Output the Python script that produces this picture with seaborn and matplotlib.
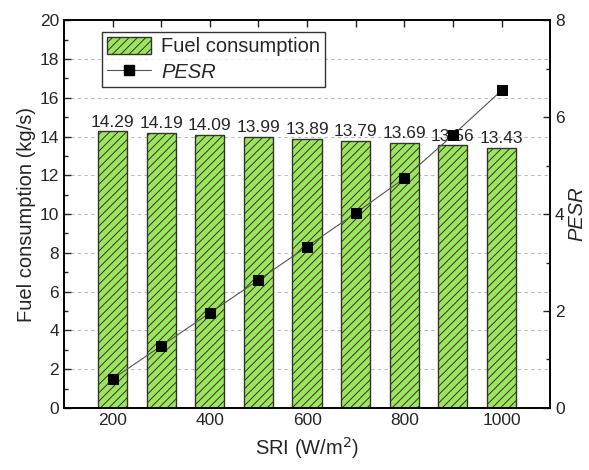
import numpy as np
import pandas as pd
import matplotlib
matplotlib.use("Agg")
import matplotlib.pyplot as plt
from matplotlib.patches import Patch
from matplotlib.lines import Line2D
import seaborn as sns

# data
sri = [200, 300, 400, 500, 600, 700, 800, 900, 1000]
fuel = [14.29, 14.19, 14.09, 13.99, 13.89, 13.79, 13.69, 13.56, 13.43]
pesr = [0.60, 1.28, 1.96, 2.64, 3.33, 4.02, 4.74, 5.63, 6.55]

sns.set_style("ticks")
plt.rcParams['font.family'] = ['Liberation Sans', 'DejaVu Sans']
plt.rcParams['hatch.linewidth'] = 0.7
plt.rcParams['hatch.color'] = '#222222'

df = pd.DataFrame({"SRI": [str(s) for s in sri], "Fuel": fuel, "PESR": pesr})

fig = plt.figure(figsize=(5.89, 4.7), dpi=100)
ax = fig.add_axes([0.1087, 0.132, 0.8253, 0.825])

green = "#9de65c"
sns.barplot(data=df, x="SRI", y="Fuel", color=green, width=0.6,
            edgecolor="#333333", linewidth=1.0, hatch="////", saturation=1,
            ax=ax, zorder=2)

# dashed grid at major left ticks
for yv in range(2, 20, 2):
    ax.axhline(yv, color="#bbbbbb", linestyle=(0, (3, 3)), linewidth=0.8, zorder=0)

ax.bar_label(ax.containers[0], fmt="%.2f", padding=1, fontsize=12.5, zorder=5)

ax.set_xlim(-1, 9)
ax.set_ylim(0, 20)
ax.set_yticks(range(0, 21, 2))
ax.set_yticks(range(1, 20, 2), minor=True)
ax.set_xticks(range(len(sri)))
ax.set_xticklabels([str(s) if i % 2 == 0 else "" for i, s in enumerate(sri)])
ax.tick_params(axis="both", which="both", direction="in", labelsize=12.5, width=1.0)
ax.tick_params(axis="both", which="major", length=5)
ax.tick_params(axis="y", which="minor", length=3)
ax.tick_params(axis="x", top=True)
ax.set_xlabel("SRI (W/m$^2$)", fontsize=14.5, labelpad=5)
ax.set_ylabel("Fuel consumption (kg/s)", fontsize=14.5, labelpad=3)

ax2 = ax.twinx()
sns.lineplot(x=np.arange(len(sri)), y=pesr, ax=ax2, color="#555555", linewidth=0.8,
             marker="s", markersize=6.5, markerfacecolor="black",
             markeredgecolor="black", zorder=6)
ax2.set_ylim(0, 8)
ax2.set_yticks(range(0, 9, 2))
ax2.set_yticks(range(1, 8, 2), minor=True)
ax2.tick_params(axis="y", which="both", direction="in", labelsize=12.5, width=1.0)
ax2.tick_params(axis="y", which="major", length=5)
ax2.tick_params(axis="y", which="minor", length=3)
ax2.set_ylabel("PESR", fontsize=14.5, style="italic", labelpad=2)

for a in (ax, ax2):
    for s in a.spines.values():
        s.set_visible(True)
        s.set_linewidth(1.2)
        s.set_color("black")

handles = [
    Patch(facecolor=green, edgecolor="#333333", hatch="////", label="Fuel consumption"),
    Line2D([0], [0], color="#555555", linewidth=0.8, marker="s", markersize=6.5,
           markerfacecolor="black", markeredgecolor="black", label="PESR"),
]
leg = ax2.legend(handles=handles, loc="upper left", bbox_to_anchor=(0.078, 0.97),
                 fontsize=14.5, frameon=True, fancybox=False, edgecolor="black",
                 handlelength=2.2, handleheight=0.9, borderpad=0.25, labelspacing=0.3,
                 handletextpad=0.5, borderaxespad=0)
leg.get_frame().set_linewidth(1.0)
leg.get_texts()[1].set_style("italic")

fig.savefig("out.png", dpi=100)
